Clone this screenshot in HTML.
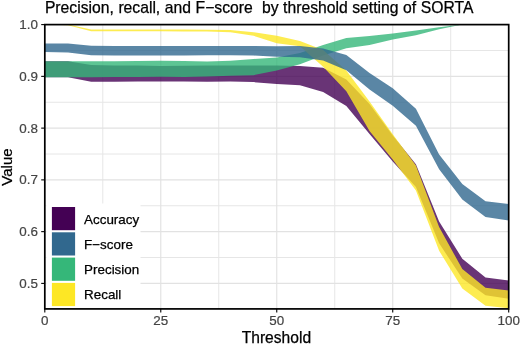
<!DOCTYPE html>
<html><head><meta charset="utf-8"><style>
html,body{margin:0;padding:0;background:#fff;}
svg{display:block;font-family:"Liberation Sans",sans-serif;will-change:transform;}
text{stroke:#000;stroke-width:0.25px;}
.tk{fill:#444;stroke:#444;stroke-width:0.2px;}
</style></head><body>
<svg width="520" height="345" viewBox="0 0 520 345">
<defs><clipPath id="clip"><rect x="44.8" y="24.6" width="463.90" height="284.30"/></clipPath></defs>
<rect x="0" y="0" width="520" height="345" fill="#fff"/>
<line x1="44.8" x2="508.7" y1="309.28" y2="309.28" stroke="#e6e6e6" stroke-width="1.0"/>
<line x1="44.8" x2="508.7" y1="257.52" y2="257.52" stroke="#e6e6e6" stroke-width="1.0"/>
<line x1="44.8" x2="508.7" y1="205.76" y2="205.76" stroke="#e6e6e6" stroke-width="1.0"/>
<line x1="44.8" x2="508.7" y1="154.00" y2="154.00" stroke="#e6e6e6" stroke-width="1.0"/>
<line x1="44.8" x2="508.7" y1="102.24" y2="102.24" stroke="#e6e6e6" stroke-width="1.0"/>
<line x1="44.8" x2="508.7" y1="50.48" y2="50.48" stroke="#e6e6e6" stroke-width="1.0"/>
<line x1="102.79" x2="102.79" y1="24.6" y2="308.9" stroke="#e6e6e6" stroke-width="1.0"/>
<line x1="218.76" x2="218.76" y1="24.6" y2="308.9" stroke="#e6e6e6" stroke-width="1.0"/>
<line x1="334.74" x2="334.74" y1="24.6" y2="308.9" stroke="#e6e6e6" stroke-width="1.0"/>
<line x1="450.71" x2="450.71" y1="24.6" y2="308.9" stroke="#e6e6e6" stroke-width="1.0"/>
<line x1="44.8" x2="508.7" y1="283.40" y2="283.40" stroke="#e2e2e2" stroke-width="1.15"/>
<line x1="44.8" x2="508.7" y1="231.64" y2="231.64" stroke="#e2e2e2" stroke-width="1.15"/>
<line x1="44.8" x2="508.7" y1="179.88" y2="179.88" stroke="#e2e2e2" stroke-width="1.15"/>
<line x1="44.8" x2="508.7" y1="128.12" y2="128.12" stroke="#e2e2e2" stroke-width="1.15"/>
<line x1="44.8" x2="508.7" y1="76.36" y2="76.36" stroke="#e2e2e2" stroke-width="1.15"/>
<line x1="44.8" x2="508.7" y1="24.60" y2="24.60" stroke="#e2e2e2" stroke-width="1.15"/>
<line x1="44.80" x2="44.80" y1="24.6" y2="308.9" stroke="#e2e2e2" stroke-width="1.15"/>
<line x1="160.77" x2="160.77" y1="24.6" y2="308.9" stroke="#e2e2e2" stroke-width="1.15"/>
<line x1="276.75" x2="276.75" y1="24.6" y2="308.9" stroke="#e2e2e2" stroke-width="1.15"/>
<line x1="392.73" x2="392.73" y1="24.6" y2="308.9" stroke="#e2e2e2" stroke-width="1.15"/>
<line x1="508.70" x2="508.70" y1="24.6" y2="308.9" stroke="#e2e2e2" stroke-width="1.15"/>
<g clip-path="url(#clip)">
<polygon points="44.80,61.30 68.00,61.30 91.19,65.10 114.38,65.40 137.58,65.60 160.77,66.00 183.97,65.80 207.17,65.50 230.36,65.40 253.56,65.40 276.75,65.60 299.94,65.90 323.14,67.80 346.34,79.50 369.53,104.00 392.73,135.50 415.92,164.30 439.12,221.50 462.31,258.70 485.50,277.50 508.70,280.40 508.70,298.80 485.50,295.20 462.31,278.60 439.12,243.30 415.92,187.00 392.73,161.50 369.53,134.00 346.34,106.00 323.14,91.90 299.94,85.20 276.75,84.00 253.56,82.10 230.36,81.50 207.17,81.80 183.97,81.60 160.77,81.50 137.58,81.60 114.38,81.70 91.19,81.80 68.00,77.30 44.80,77.30" fill="#440154" fill-opacity="0.8"/>
<polygon points="44.80,61.30 68.00,61.30 91.19,61.30 114.38,61.20 137.58,61.00 160.77,60.80 183.97,61.00 207.17,61.50 230.36,60.80 253.56,58.90 276.75,57.60 299.94,53.00 323.14,45.10 346.34,37.90 369.53,36.00 392.73,33.50 415.92,30.50 439.12,27.20 462.31,24.60 485.50,24.60 508.70,24.60 508.70,24.60 485.50,24.60 462.31,24.60 439.12,29.20 415.92,35.30 392.73,39.40 369.53,45.00 346.34,48.30 323.14,55.50 299.94,64.20 276.75,70.60 253.56,75.20 230.36,75.70 207.17,76.60 183.97,76.90 160.77,76.80 137.58,77.00 114.38,77.10 91.19,77.20 68.00,77.30 44.80,77.30" fill="#35B779" fill-opacity="0.8"/>
<polygon points="44.80,24.60 68.00,24.60 91.19,29.60 114.38,29.60 137.58,29.60 160.77,29.60 183.97,29.60 207.17,29.70 230.36,30.00 253.56,32.20 276.75,35.80 299.94,41.00 323.14,50.00 346.34,70.50 369.53,101.50 392.73,134.20 415.92,165.50 439.12,227.00 462.31,269.10 485.50,287.80 508.70,290.50 508.70,308.20 485.50,305.70 462.31,288.40 439.12,250.80 415.92,190.50 392.73,159.50 369.53,131.00 346.34,91.30 323.14,66.80 299.94,46.30 276.75,43.20 253.56,35.80 230.36,32.30 207.17,31.60 183.97,31.40 160.77,31.30 137.58,31.30 114.38,31.30 91.19,31.30 68.00,25.20 44.80,24.60" fill="#FDE725" fill-opacity="0.8"/>
<polygon points="44.80,43.60 68.00,43.60 91.19,45.70 114.38,46.00 137.58,46.00 160.77,46.00 183.97,46.00 207.17,45.90 230.36,45.90 253.56,45.90 276.75,46.30 299.94,46.10 323.14,48.60 346.34,55.10 369.53,73.10 392.73,88.30 415.92,108.80 439.12,154.40 462.31,184.10 485.50,201.20 508.70,203.90 508.70,220.40 485.50,217.00 462.31,199.60 439.12,169.30 415.92,125.80 392.73,105.80 369.53,89.40 346.34,70.20 323.14,60.40 299.94,57.20 276.75,56.80 253.56,55.60 230.36,55.20 207.17,55.20 183.97,55.40 160.77,55.40 137.58,55.40 114.38,55.40 91.19,55.30 68.00,52.50 44.80,52.00" fill="#31688E" fill-opacity="0.8"/>
</g>
<rect x="46.4" y="203.5" width="94.1" height="105" fill="#fff"/>
<rect x="51.9" y="207.00" width="23.2" height="23.2" fill="#440154"/>
<text x="84.1" y="223.90" font-size="13.4">Accuracy</text>
<rect x="51.9" y="232.30" width="23.2" height="23.2" fill="#31688E"/>
<text x="84.1" y="248.90" font-size="13.4">F−score</text>
<rect x="51.9" y="257.60" width="23.2" height="23.2" fill="#35B779"/>
<text x="84.1" y="273.90" font-size="13.4">Precision</text>
<rect x="51.9" y="282.90" width="23.2" height="23.2" fill="#FDE725"/>
<text x="84.1" y="298.90" font-size="13.4">Recall</text>
<rect x="44.8" y="24.6" width="463.90" height="284.30" fill="none" stroke="#000" stroke-width="1.7"/>
<line x1="41.20" x2="44.8" y1="283.40" y2="283.40" stroke="#000" stroke-width="1.1"/>
<text x="37.9" y="288.00" font-size="13.4" text-anchor="end" class="tk">0.5</text>
<line x1="41.20" x2="44.8" y1="231.64" y2="231.64" stroke="#000" stroke-width="1.1"/>
<text x="37.9" y="236.24" font-size="13.4" text-anchor="end" class="tk">0.6</text>
<line x1="41.20" x2="44.8" y1="179.88" y2="179.88" stroke="#000" stroke-width="1.1"/>
<text x="37.9" y="184.48" font-size="13.4" text-anchor="end" class="tk">0.7</text>
<line x1="41.20" x2="44.8" y1="128.12" y2="128.12" stroke="#000" stroke-width="1.1"/>
<text x="37.9" y="132.72" font-size="13.4" text-anchor="end" class="tk">0.8</text>
<line x1="41.20" x2="44.8" y1="76.36" y2="76.36" stroke="#000" stroke-width="1.1"/>
<text x="37.9" y="80.96" font-size="13.4" text-anchor="end" class="tk">0.9</text>
<line x1="41.20" x2="44.8" y1="24.60" y2="24.60" stroke="#000" stroke-width="1.1"/>
<text x="37.9" y="29.20" font-size="13.4" text-anchor="end" class="tk">1.0</text>
<line x1="44.80" x2="44.80" y1="308.9" y2="312.50" stroke="#000" stroke-width="1.1"/>
<text x="44.80" y="324.6" font-size="13.4" text-anchor="middle" class="tk">0</text>
<line x1="160.77" x2="160.77" y1="308.9" y2="312.50" stroke="#000" stroke-width="1.1"/>
<text x="160.77" y="324.6" font-size="13.4" text-anchor="middle" class="tk">25</text>
<line x1="276.75" x2="276.75" y1="308.9" y2="312.50" stroke="#000" stroke-width="1.1"/>
<text x="276.75" y="324.6" font-size="13.4" text-anchor="middle" class="tk">50</text>
<line x1="392.73" x2="392.73" y1="308.9" y2="312.50" stroke="#000" stroke-width="1.1"/>
<text x="392.73" y="324.6" font-size="13.4" text-anchor="middle" class="tk">75</text>
<line x1="508.70" x2="508.70" y1="308.9" y2="312.50" stroke="#000" stroke-width="1.1"/>
<text x="508.70" y="324.6" font-size="13.4" text-anchor="middle" class="tk">100</text>
<text x="276.4" y="343.1" font-size="15.6" text-anchor="middle">Threshold</text>
<text transform="translate(12.2,167.0) rotate(-90)" font-size="15" text-anchor="middle">Value</text>
<text x="44.9" y="12.5" font-size="15.7" word-spacing="0.25" xml:space="preserve">Precision, recall, and F−score  by threshold setting of SORTA</text>
</svg></body></html>
